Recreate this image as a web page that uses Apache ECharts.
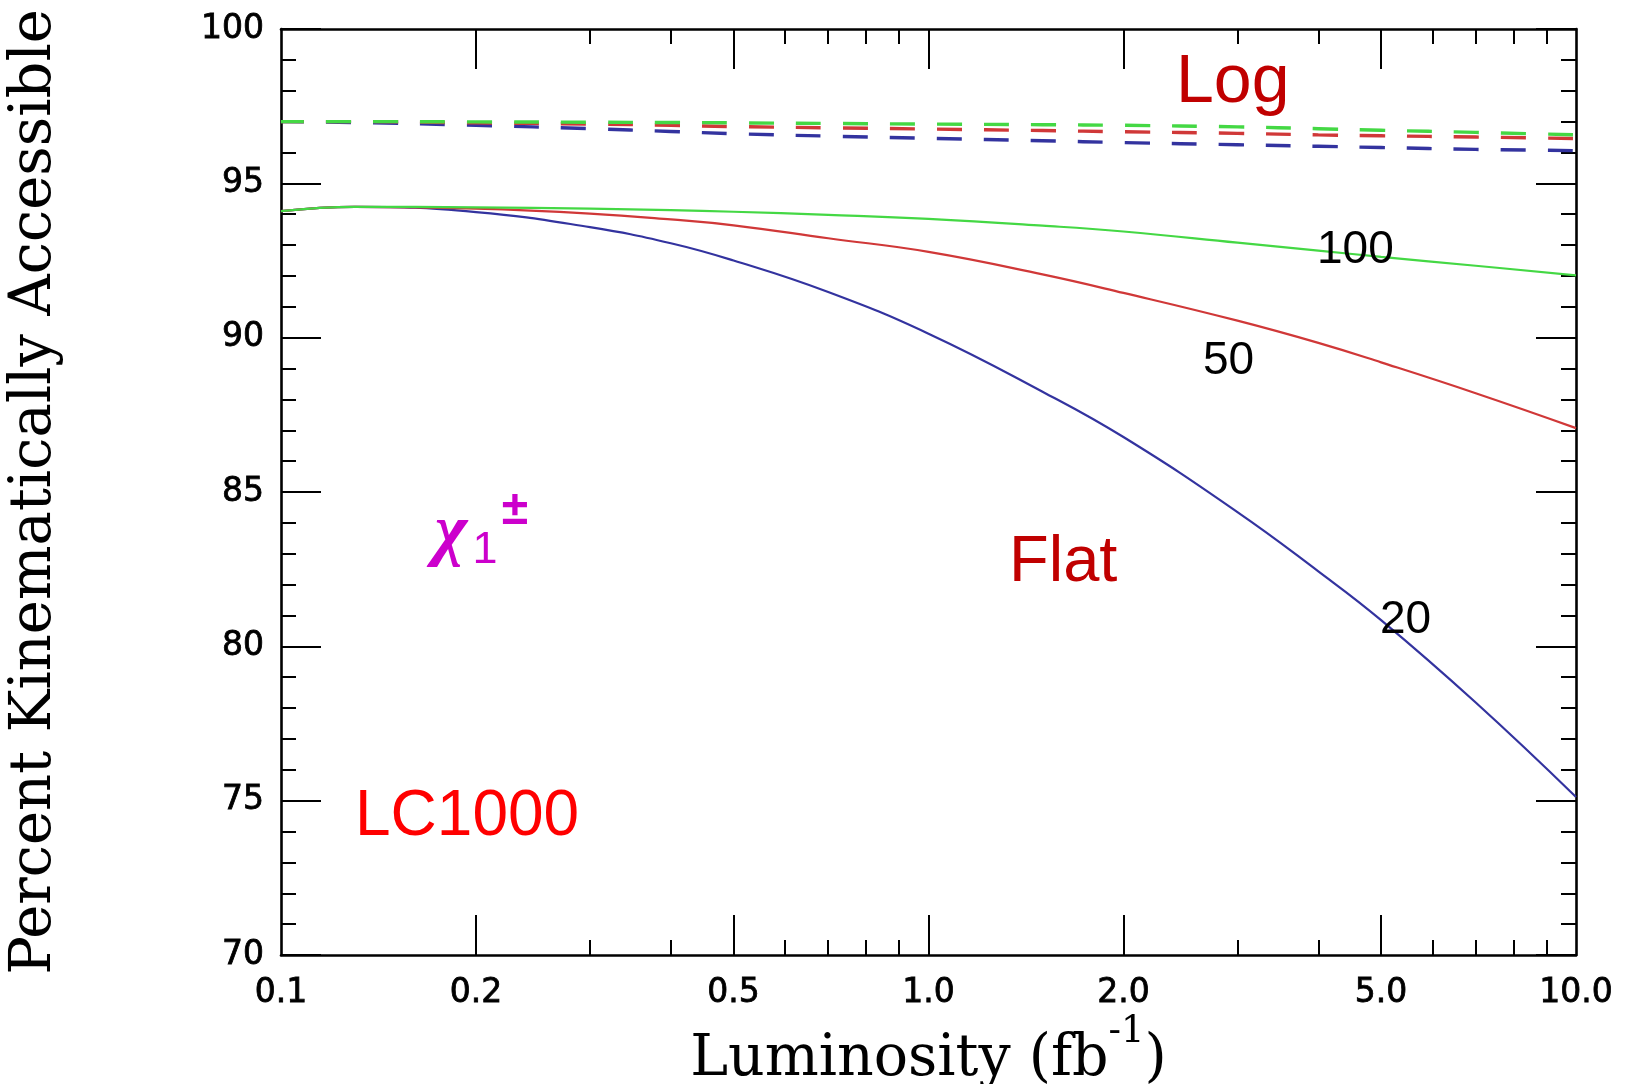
<!DOCTYPE html>
<html>
<head>
<meta charset="utf-8">
<title>Percent Kinematically Accessible vs Luminosity</title>
<script src="https://cdn.jsdelivr.net/npm/echarts@6/dist/echarts.min.js"></script>
<style>
  html, body { margin: 0; padding: 0; background: #ffffff; }
  #chart { width: 1631px; height: 1084px; }
</style>
</head>
<body>
<div id="chart"></div>
<script>
// Integrated luminosity (fb^-1) sampled along each curve
const lumi = [0.1, 0.13, 0.2, 0.3, 0.4, 0.5, 0.7, 1.0, 1.5, 2.0, 3.0, 4.0, 5.0, 7.0, 10.0];

// "Flat" spectrum (solid curves), labelled 20 / 50 / 100
const flat20  = [94.10, 94.24, 94.07, 93.58, 93.06, 92.50, 91.48, 90.13, 88.25, 86.78, 84.35, 82.43, 80.85, 78.18, 75.12];
const flat50  = [94.10, 94.24, 94.18, 94.02, 93.83, 93.64, 93.22, 92.78, 92.05, 91.45, 90.55, 89.83, 89.20, 88.20, 87.07];
const flat100 = [94.10, 94.24, 94.22, 94.18, 94.13, 94.08, 93.98, 93.85, 93.63, 93.44, 93.08, 92.82, 92.62, 92.33, 92.02];

// "Log" spectrum (dashed curves)
const log20  = [97.00, 96.97, 96.88, 96.77, 96.68, 96.61, 96.53, 96.46, 96.38, 96.32, 96.25, 96.20, 96.16, 96.10, 96.06];
const log50  = [97.00, 97.00, 96.96, 96.92, 96.88, 96.84, 96.80, 96.76, 96.71, 96.67, 96.62, 96.57, 96.54, 96.50, 96.45];
const log100 = [97.00, 97.00, 96.99, 96.98, 96.97, 96.96, 96.94, 96.92, 96.90, 96.88, 96.83, 96.77, 96.72, 96.65, 96.57];

// Axis ticks and labels
const xLabelValues = [0.1, 0.2, 0.5, 1, 2, 5, 10];
const xLabelText   = ['0.1', '0.2', '0.5', '1.0', '2.0', '5.0', '10.0'];
const xMajorTicks  = [0.2, 0.5, 1, 2, 5];
const xMinorTicks  = [0.3, 0.4, 0.6, 0.7, 0.8, 0.9, 3, 4, 6, 7, 8, 9];
const yMin = 70, yMax = 100, yStep = 5;

const BLUE = '#33339f', RED = '#d03838', GREEN = '#44d844';
const INK = '#000000';
const MAGENTA = '#cc00cc';

const pairs = arr => lumi.map((x, i) => [x, arr[i]]);

const chart = echarts.init(document.getElementById('chart'), null, { renderer: 'canvas' });

const tickStyle = { color: INK, width: 2 };
const lineStyleAxis = { color: INK, width: 2.6 };
const tickFont = {
  color: INK, fontFamily: 'DejaVu Sans', fontSize: 33,
  textBorderColor: INK, textBorderWidth: 0.8
};

function nearestLabel(v) {
  let best = 0;
  const lv = Math.log10(v);
  for (let i = 1; i < xLabelValues.length; i++) {
    if (Math.abs(Math.log10(xLabelValues[i]) - lv) < Math.abs(Math.log10(xLabelValues[best]) - lv)) best = i;
  }
  return xLabelText[best];
}

function xAxisDef(position, ticks, len, withLine, withLabels) {
  return {
    type: 'log', logBase: 10, min: 0.1, max: 10, position: position,
    axisLine: { show: withLine, lineStyle: lineStyleAxis },
    axisTick: { show: true, inside: true, length: len, customValues: ticks, lineStyle: tickStyle },
    axisLabel: withLabels
      ? Object.assign({ show: true, customValues: xLabelValues, margin: 22, formatter: nearestLabel }, tickFont)
      : { show: false },
    splitLine: { show: false },
    minorTick: { show: false },
    minorSplitLine: { show: false }
  };
}

function yAxisDef(position, withLabels) {
  return {
    type: 'value', min: yMin, max: yMax, interval: yStep, position: position,
    axisLine: { show: true, lineStyle: lineStyleAxis },
    axisTick: { show: true, inside: true, length: 40, lineStyle: tickStyle },
    minorTick: { show: true, splitNumber: 5, length: 15, lineStyle: tickStyle },
    axisLabel: withLabels ? Object.assign({ show: true, margin: 17 }, tickFont) : { show: false },
    splitLine: { show: false },
    minorSplitLine: { show: false }
  };
}

const xAxes = [
  xAxisDef('bottom', xMajorTicks, 40, true, true),
  xAxisDef('bottom', xMinorTicks, 15, false, false),
  xAxisDef('top', xMajorTicks, 40, true, false),
  xAxisDef('top', xMinorTicks, 15, false, false)
];
xAxes[0].name = '{m|Luminosity (fb}{s|-1}{m|)}';
xAxes[0].nameLocation = 'middle';
xAxes[0].nameGap = 59;
xAxes[0].nameMoveOverlap = false;
xAxes[0].nameTextStyle = {
  rich: {
    m: { fontFamily: 'DejaVu Serif', fontSize: 57, lineHeight: 92, color: INK },
    s: { fontFamily: 'DejaVu Serif', fontSize: 37, lineHeight: 37, color: INK, verticalAlign: 'top' }
  }
};

const yAxes = [yAxisDef('left', true), yAxisDef('right', false)];
yAxes[0].name = 'Percent Kinematically Accessible';
yAxes[0].nameLocation = 'middle';
yAxes[0].nameRotate = 90;
yAxes[0].nameGap = 217;
yAxes[0].nameTextStyle = { fontFamily: 'DejaVu Serif', fontSize: 57.5, color: INK };

function lineSeries(name, arr, color, dashed) {
  return {
    name: name, type: 'line', xAxisIndex: 0, yAxisIndex: 0,
    data: pairs(arr), smooth: 0.45, showSymbol: false, symbol: 'none',
    lineStyle: dashed
      ? { color: color, width: 3.4, type: [25, 22], dashOffset: 2 }
      : { color: color, width: 2.2 },
    z: 3
  };
}

function annot(text, x, y, font, color, extra) {
  return {
    type: 'text', x: x, y: y, z: 10,
    style: Object.assign({
      text: text, fill: color, font: font, align: 'left', verticalAlign: 'middle'
    }, extra || {})
  };
}

chart.setOption({
  backgroundColor: '#ffffff',
  animation: false,
  grid: { left: 281, right: 55, top: 29, bottom: 129, containLabel: false, outerBoundsMode: 'none' },
  xAxis: xAxes,
  yAxis: yAxes,
  series: [
    lineSeries('Log 20', log20, BLUE, true),
    lineSeries('Log 50', log50, RED, true),
    lineSeries('Log 100', log100, GREEN, true),
    lineSeries('Flat 20', flat20, BLUE, false),
    lineSeries('Flat 50', flat50, RED, false),
    lineSeries('Flat 100', flat100, GREEN, false)
  ],
  graphic: [
    annot('Log', 1176, 83, '68px "Liberation Sans"', '#c00000'),
    annot('Flat', 1009, 563, '65px "Liberation Sans"', '#c00000'),
    annot('LC1000', 355, 817, '64px "Liberation Sans"', '#ff0000'),
    annot('100', 1317, 250, '46px "Liberation Sans"', INK),
    annot('50', 1203, 361, '46px "Liberation Sans"', INK),
    annot('20', 1380, 620, '46px "Liberation Sans"', INK),
    annot('\u03c7', 451, 534, 'italic bold 70px "Liberation Serif"', MAGENTA, { align: 'center' }),
    annot('1', 485, 551, '45px "Liberation Sans"', MAGENTA, { align: 'center' }),
    annot('\u00b1', 515, 511, 'bold 48px "Liberation Sans"', MAGENTA, { align: 'center' })
  ]
});
</script>
</body>
</html>
